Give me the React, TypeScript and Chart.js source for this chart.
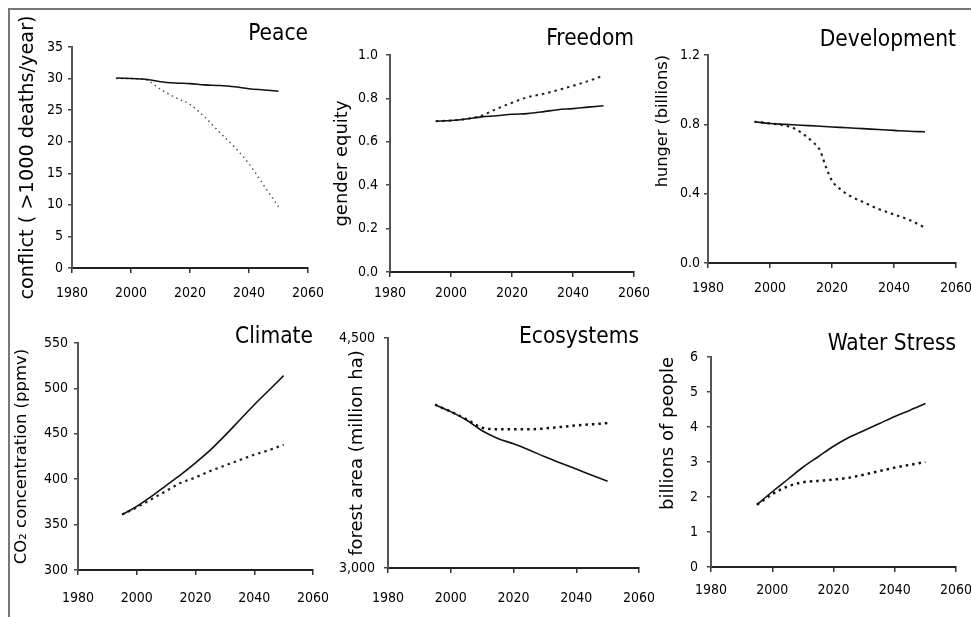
import React, { useEffect, useRef } from "react";
import { Chart, registerables } from "chart.js";

Chart.register(...registerables);

// ---------- data ----------
const years = [1995, 2000, 2005, 2010, 2015, 2020, 2025, 2030, 2035, 2040, 2045, 2050];
const xTicks = [1980, 2000, 2020, 2040, 2060];

const peaceTrend = [30.1, 30.0, 29.9, 29.5, 29.3, 29.2, 29.0, 28.9, 28.7, 28.4, 28.2, 28.0];
const peaceSustain = [30.0, 30.0, 29.8, 28.3, 27.0, 25.9, 23.9, 21.5, 19.2, 16.5, 13.1, 9.7];
const peaceYTicks = [0, 5, 10, 15, 20, 25, 30, 35];

const freedomTrend = [0.695, 0.698, 0.705, 0.715, 0.72, 0.727, 0.73, 0.738, 0.748, 0.753, 0.76, 0.766];
const freedomSustain = [0.695, 0.698, 0.705, 0.72, 0.752, 0.78, 0.805, 0.82, 0.838, 0.858, 0.88, 0.905];
const freedomYTicks = [0, 0.2, 0.4, 0.6, 0.8, 1.0];

const devTrend = [0.815, 0.805, 0.8, 0.795, 0.79, 0.785, 0.78, 0.775, 0.77, 0.765, 0.76, 0.757];
const devSustainYears = [1995, 2000, 2005, 2008, 2011, 2014, 2016, 2018, 2020, 2023, 2026, 2030, 2035, 2040, 2045, 2050];
const devSustain = [0.815, 0.805, 0.792, 0.775, 0.74, 0.695, 0.655, 0.556, 0.475, 0.421, 0.385, 0.352, 0.312, 0.28, 0.248, 0.204];
const devYTicks = [0, 0.4, 0.8, 1.2];

const climateTrend = [361, 370, 381, 393, 405, 418, 432, 448, 465, 482, 498, 514];
const climateSustain = [361, 369, 378, 387, 396, 402, 409, 415, 421, 427, 432, 438];
const climateYTicks = [300, 350, 400, 450, 500, 550];

const ecoTrend = [4065, 4020, 3965, 3895, 3845, 3810, 3770, 3725, 3685, 3645, 3605, 3565];
const ecoSustain = [4065, 4020, 3970, 3915, 3905, 3905, 3905, 3910, 3920, 3930, 3937, 3945];
const ecoYTicks = [3000, 4500];

const waterTrend = [1.78, 2.15, 2.5, 2.85, 3.15, 3.45, 3.7, 3.9, 4.1, 4.3, 4.48, 4.67];
const waterSustain = [1.78, 2.08, 2.3, 2.42, 2.46, 2.5, 2.55, 2.64, 2.74, 2.84, 2.92, 3.0];
const waterYTicks = [0, 1, 2, 3, 4, 5, 6];

// ---------- layout / style ----------
const NARROW = "'Liberation Sans Narrow', 'Arial Narrow', 'DejaVu Sans Condensed', sans-serif";
const WIDE = "'DejaVu Sans', Verdana, sans-serif";
const PAD_R = 15;
const X_H = 40;
const TICK_FONT = 14;
const TITLE_FONT = 22.5;

type PanelCfg = {
  title: string;
  yTitle: string;
  trend: number[];
  sustain: number[];
  sustainYears?: number[];
  yTicks: number[];
  fmt: (v: number) => string;
  yMin: number;
  yMax: number;
  cl: number;
  ct: number;
  plotL: number;
  plotR: number;
  plotT: number;
  plotB: number;
  titleMid: number;
  xLabelY: number;
  yGap: number;
  yTitleX: number;
  yTitleSize: number;
  yTitleAlign: "center" | "end" | "start";
  dash: number[];
  dashWidth: number;
  dashColor: string;
};

const int = (v: number) => String(v);
const one = (v: number) => v.toFixed(1);
const thousands = (v: number) => v.toLocaleString("en-US");

const panels: PanelCfg[] = [
  {
    title: "Peace", yTitle: "conflict ( >1000 deaths/year)", trend: peaceTrend, sustain: peaceSustain,
    yTicks: peaceYTicks, fmt: int, yMin: 0, yMax: 35,
    cl: 10, ct: 10, plotL: 72, plotR: 308, plotT: 47, plotB: 268, titleMid: 34.5, xLabelY: 293,
    yGap: 5, yTitleX: 28, yTitleSize: 19.3, yTitleAlign: "center",
    dash: [1.5, 3.5], dashWidth: 1.5, dashColor: "#555",
  },
  {
    title: "Freedom", yTitle: "gender equity", trend: freedomTrend, sustain: freedomSustain,
    yTicks: freedomYTicks, fmt: one, yMin: 0, yMax: 1,
    cl: 325, ct: 10, plotL: 390, plotR: 634, plotT: 55, plotB: 272, titleMid: 39, xLabelY: 293,
    yGap: 8, yTitleX: 342, yTitleSize: 18, yTitleAlign: "center",
    dash: [2.5, 4], dashWidth: 2, dashColor: "#222",
  },
  {
    title: "Development", yTitle: "hunger (billions)", trend: devTrend, sustain: devSustain,
    sustainYears: devSustainYears,
    yTicks: devYTicks, fmt: one, yMin: 0, yMax: 1.2,
    cl: 648, ct: 10, plotL: 708, plotR: 956, plotT: 55, plotB: 263, titleMid: 40, xLabelY: 288,
    yGap: 4, yTitleX: 663, yTitleSize: 16.2, yTitleAlign: "end",
    dash: [2.5, 4], dashWidth: 2.2, dashColor: "#222",
  },
  {
    title: "Climate", yTitle: "CO\u2082 concentration (ppmv)", trend: climateTrend, sustain: climateSustain,
    yTicks: climateYTicks, fmt: int, yMin: 300, yMax: 550,
    cl: 10, ct: 305, plotL: 78, plotR: 313, plotT: 343, plotB: 570, titleMid: 337.5, xLabelY: 598,
    yGap: 6, yTitleX: 22, yTitleSize: 16.5, yTitleAlign: "center",
    dash: [2.5, 4], dashWidth: 2.2, dashColor: "#222",
  },
  {
    title: "Ecosystems", yTitle: "forest area (million ha)", trend: ecoTrend, sustain: ecoSustain,
    yTicks: ecoYTicks, fmt: thousands, yMin: 3000, yMax: 4500,
    cl: 325, ct: 305, plotL: 388, plotR: 639, plotT: 338, plotB: 568, titleMid: 337, xLabelY: 598,
    yGap: 9, yTitleX: 357, yTitleSize: 18, yTitleAlign: "center",
    dash: [2.5, 4], dashWidth: 2.5, dashColor: "#111",
  },
  {
    title: "Water Stress", yTitle: "billions of people", trend: waterTrend, sustain: waterSustain,
    yTicks: waterYTicks, fmt: int, yMin: 0, yMax: 6,
    cl: 648, ct: 305, plotL: 711, plotR: 956, plotT: 357, plotB: 567, titleMid: 344, xLabelY: 590,
    yGap: 9, yTitleX: 668, yTitleSize: 18, yTitleAlign: "end",
    dash: [2.5, 4], dashWidth: 2.5, dashColor: "#111",
  },
];

function makeConfig(p: PanelCfg): any {
  const lhTick = TICK_FONT * 1.2;
  const xTickLen = 5;
  const yTickLen = 4;
  const sYears = p.sustainYears || years;
  return {
    type: "line",
    data: {
      datasets: [
        {
          label: "trend",
          data: years.map((y, i) => ({ x: y, y: p.trend[i] })),
          borderColor: "#111",
          borderWidth: 1.6,
          pointRadius: 0,
          cubicInterpolationMode: "monotone",
          fill: false,
        },
        {
          label: "sustainable",
          data: sYears.map((y, i) => ({ x: y, y: p.sustain[i] })),
          borderColor: p.dashColor,
          borderWidth: p.dashWidth,
          borderDash: p.dash,
          pointRadius: 0,
          cubicInterpolationMode: "monotone",
          fill: false,
        },
      ],
    },
    options: {
      animation: false,
      responsive: true,
      maintainAspectRatio: false,
      events: [],
      layout: { padding: { left: 0, top: 0, right: PAD_R, bottom: 0 } },
      plugins: {
        legend: { display: false },
        tooltip: { enabled: false },
        title: {
          display: true,
          text: p.title,
          align: "end",
          fullSize: false,
          color: "#000",
          font: { family: NARROW, size: TITLE_FONT, weight: "normal", lineHeight: 0 },
          padding: { top: p.titleMid - p.ct, bottom: Math.max(0, p.plotT - p.titleMid) },
        },
      },
      scales: {
        x: {
          type: "linear",
          min: xTicks[0],
          max: xTicks[xTicks.length - 1],
          afterBuildTicks: (s: any) => {
            s.ticks = xTicks.map((v) => ({ value: v }));
          },
          afterFit: (s: any) => {
            s.height = X_H;
            s.paddingLeft = 0;
            s.paddingRight = 0;
          },
          grid: {
            display: true,
            drawOnChartArea: false,
            drawTicks: true,
            tickLength: xTickLen,
            color: "#333",
            lineWidth: 1.5,
          },
          border: { display: true, color: "#222", width: 2 },
          ticks: {
            color: "#000",
            font: { family: NARROW, size: TICK_FONT },
            padding: p.xLabelY - p.plotB - xTickLen - lhTick / 2,
            maxRotation: 0,
            autoSkip: false,
            callback: (v: any) => String(v),
          },
        },
        y: {
          type: "linear",
          min: p.yMin,
          max: p.yMax,
          afterBuildTicks: (s: any) => {
            s.ticks = p.yTicks.map((v) => ({ value: v }));
          },
          afterFit: (s: any) => {
            s.width = p.plotL - p.cl;
            s.paddingTop = 0;
            s.paddingBottom = 0;
          },
          grid: {
            display: true,
            drawOnChartArea: false,
            drawTicks: true,
            tickLength: yTickLen,
            color: "#444",
            lineWidth: 1.5,
          },
          border: { display: true, color: "#555", width: 2 },
          ticks: {
            color: "#000",
            font: { family: NARROW, size: TICK_FONT },
            padding: p.yGap,
            autoSkip: false,
            callback: (v: any) => p.fmt(Number(v)),
          },
          title: {
            display: true,
            text: p.yTitle,
            align: p.yTitleAlign,
            color: "#000",
            font: { family: WIDE, size: p.yTitleSize, weight: "normal", lineHeight: 1.2 },
            padding: { top: Math.max(0, p.yTitleX - p.cl - p.yTitleSize * 0.6), bottom: 0 },
          },
        },
      },
    },
  };
}

function Panel({ p }: { p: PanelCfg }) {
  const ref = useRef<HTMLCanvasElement | null>(null);
  useEffect(() => {
    if (!ref.current) return;
    const chart = new Chart(ref.current, makeConfig(p));
    return () => chart.destroy();
  }, [p]);
  const w = p.plotR + PAD_R - p.cl;
  const h = p.plotB + X_H - p.ct;
  return (
    <div style={{ position: "absolute", left: p.cl, top: p.ct, width: w, height: h }}>
      <canvas ref={ref} />
    </div>
  );
}

export default function App() {
  return (
    <div style={{ position: "absolute", left: 0, top: 0, width: 971, height: 617, background: "#fff", overflow: "hidden" }}>
      <div
        style={{
          position: "absolute",
          left: 8,
          top: 8,
          width: 963,
          height: 609,
          boxSizing: "border-box",
          borderLeft: "2px solid #777",
          borderTop: "2px solid #777",
        }}
      />
      {panels.map((p) => (
        <Panel key={p.title} p={p} />
      ))}
    </div>
  );
}
